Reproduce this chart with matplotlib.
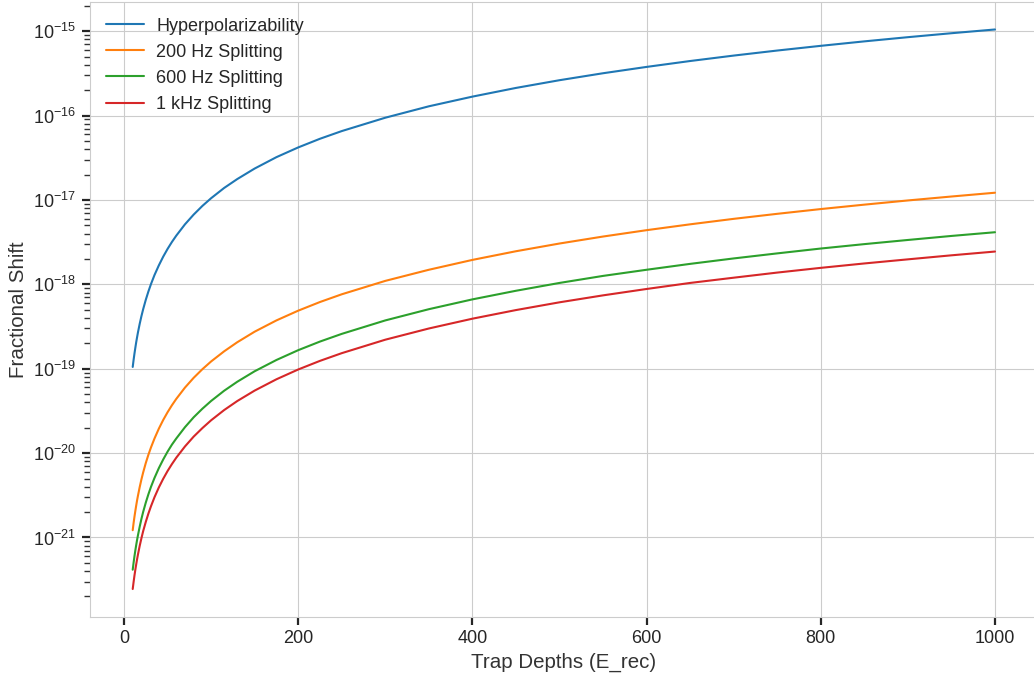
import matplotlib
matplotlib.use("Agg")
import matplotlib.pyplot as plt
import numpy as np
import seaborn as sns

# Trap depth (in recoil energies) at which the shifts were evaluated
trap_depths = [10, 11, 12, 13, 14, 15, 16, 18, 20, 22,
               25, 28, 31, 35, 40, 45, 50, 55, 60, 70,
               80, 90, 100, 115, 130, 150, 175, 200, 225, 250,
               300, 350, 400, 450, 500, 550, 600, 650, 700, 750,
               800, 850, 900, 950, 1000]

# Fractional clock shifts
hyperpol = [1.05e-19, 1.27e-19, 1.51e-19, 1.77e-19, 2.06e-19, 2.36e-19, 2.69e-19, 3.40e-19, 4.20e-19, 5.08e-19,
            6.56e-19, 8.23e-19, 1.01e-18, 1.29e-18, 1.68e-18, 2.13e-18, 2.63e-18, 3.18e-18, 3.78e-18, 5.15e-18,
            6.72e-18, 8.51e-18, 1.05e-17, 1.39e-17, 1.77e-17, 2.36e-17, 3.22e-17, 4.20e-17, 5.32e-17, 6.56e-17,
            9.45e-17, 1.29e-16, 1.68e-16, 2.13e-16, 2.63e-16, 3.18e-16, 3.78e-16, 4.44e-16, 5.15e-16, 5.91e-16,
            6.72e-16, 7.59e-16, 8.51e-16, 9.48e-16, 1.05e-15]
split_200hz = [1.22e-21, 1.48e-21, 1.76e-21, 2.06e-21, 2.39e-21, 2.75e-21, 3.12e-21, 3.95e-21, 4.88e-21, 5.90e-21,
               7.63e-21, 9.56e-21, 1.17e-20, 1.49e-20, 1.95e-20, 2.47e-20, 3.05e-20, 3.69e-20, 4.39e-20, 5.98e-20,
               7.81e-20, 9.88e-20, 1.22e-19, 1.61e-19, 2.06e-19, 2.75e-19, 3.74e-19, 4.88e-19, 6.18e-19, 7.63e-19,
               1.10e-18, 1.49e-18, 1.95e-18, 2.47e-18, 3.05e-18, 3.69e-18, 4.39e-18, 5.15e-18, 5.98e-18, 6.86e-18,
               7.81e-18, 8.81e-18, 9.88e-18, 1.10e-17, 1.22e-17]
split_600hz = [4.15e-22, 5.02e-22, 5.98e-22, 7.01e-22, 8.13e-22, 9.34e-22, 1.06e-21, 1.34e-21, 1.66e-21, 2.01e-21,
               2.59e-21, 3.25e-21, 3.99e-21, 5.08e-21, 6.64e-21, 8.40e-21, 1.04e-20, 1.26e-20, 1.49e-20, 2.03e-20,
               2.66e-20, 3.36e-20, 4.15e-20, 5.49e-20, 7.01e-20, 9.34e-20, 1.27e-19, 1.66e-19, 2.10e-19, 2.59e-19,
               3.74e-19, 5.08e-19, 6.64e-19, 8.40e-19, 1.04e-18, 1.26e-18, 1.49e-18, 1.75e-18, 2.03e-18, 2.33e-18,
               2.66e-18, 3.00e-18, 3.36e-18, 3.75e-18, 4.15e-18]
split_1khz = [2.45e-22, 2.96e-22, 3.53e-22, 4.14e-22, 4.80e-22, 5.51e-22, 6.27e-22, 7.94e-22, 9.80e-22, 1.19e-21,
              1.53e-21, 1.92e-21, 2.35e-21, 3.00e-21, 3.92e-21, 4.96e-21, 6.13e-21, 7.41e-21, 8.82e-21, 1.20e-20,
              1.57e-20, 1.98e-20, 2.45e-20, 3.24e-20, 4.14e-20, 5.51e-20, 7.50e-20, 9.80e-20, 1.24e-19, 1.53e-19,
              2.21e-19, 3.00e-19, 3.92e-19, 4.96e-19, 6.13e-19, 7.41e-19, 8.82e-19, 1.04e-18, 1.20e-18, 1.38e-18,
              1.57e-18, 1.77e-18, 1.98e-18, 2.21e-18, 2.45e-18]

series = [
    ("Hyperpolarizability", hyperpol),
    ("200 Hz Splitting", split_200hz),
    ("600 Hz Splitting", split_600hz),
    ("1 kHz Splitting", split_1khz),
]

sns.set_style("whitegrid", {"xtick.bottom": True, "ytick.left": True})
plt.rcParams["font.family"] = ["Liberation Sans", "DejaVu Sans"]

W, H = 1034, 679
fig = plt.figure(figsize=(W / 100, H / 100), dpi=100)
# axes runs slightly past the right edge of the canvas
ax = fig.add_axes([89.6 / W, 62 / H, 948.5 / W, 615.5 / H])

for label, vals in series:
    ax.semilogy(trap_depths, vals, label=label, lw=1.5)

ax.set_xlabel("Trap Depths (E_rec)", fontsize=14.8, color="#333333")
ax.set_ylabel("Fractional Shift", fontsize=14.8, color="#333333")
ax.tick_params(axis="both", which="major", labelsize=13, length=6, width=1.6,
               color="#262626", labelcolor="#262626")
ax.tick_params(axis="y", which="minor", left=True, length=4, width=1.0,
               color="#333333")
ax.set_xticks(np.arange(0, 1001, 200))
for s in ax.spines.values():
    s.set_color("#cccccc")

ax.legend(loc="upper left", frameon=False, fontsize=13, handlelength=2.1,
          handletextpad=0.7, labelspacing=0.5,
          bbox_to_anchor=(0.0, 1.0), borderaxespad=0.4, borderpad=0.5)

fig.savefig("out.png", dpi=100)
